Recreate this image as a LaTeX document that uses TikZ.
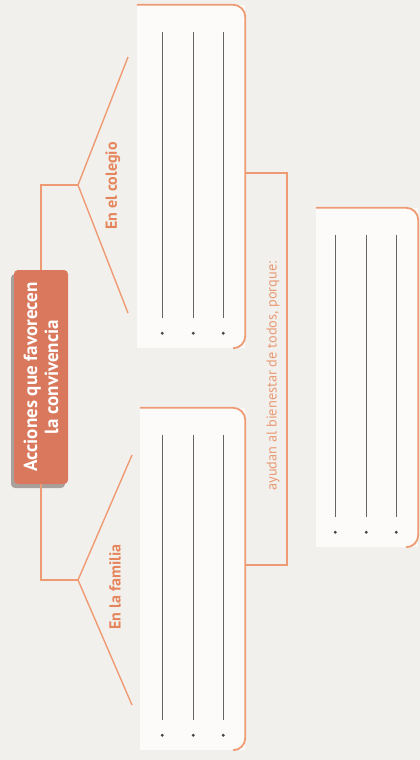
\documentclass[tikz,border=0pt]{standalone}
\usepackage{fontspec}
\setmainfont{PT Sans}
\usepackage{tikz}
\usetikzlibrary{positioning,calc}
\definecolor{CVPaper}{HTML}{F2F0ED}
\definecolor{CVSheet}{HTML}{FCFBFA}
\definecolor{CVSalmon}{HTML}{D9785C}
\definecolor{CVLine}{HTML}{EE9B73}
\definecolor{CVText}{HTML}{E5855B}
\definecolor{CVSoft}{HTML}{E89A74}
\definecolor{CVGray}{HTML}{666666}
\definecolor{CVShadow}{HTML}{A8A09A}
\begin{document}
\begin{tikzpicture}[x=1pt,y=-1pt,
  mainbox/.style={rounded corners=4pt,fill=CVSalmon,text=white,font=\bfseries\fontsize{19}{21}\selectfont,align=center,rotate=90,minimum width=214pt,minimum height=54pt,inner sep=0pt},
  sheet/.style={fill=CVSheet,inner sep=0pt},
  boxrim/.style={draw=CVLine,line width=1.8pt,rounded corners=12pt},
  conn/.style={draw=CVLine,line width=1.4pt},
  branch/.style={font=\bfseries\fontsize{16}{18}\selectfont,text=CVText,rotate=90},
  porque/.style={font=\fontsize{14.3}{16}\selectfont,text=CVSoft,rotate=90},
  writeline/.style={draw=CVGray,line width=0.6pt},
  penpoint/.style={fill=CVGray!70!black}
]
\fill[CVPaper] (0,0) rectangle (420,760);
\node[sheet,minimum width=108pt,minimum height=343pt] (colbox) at (191,176.5) {};
\node[sheet,minimum width=105pt,minimum height=342pt] (fambox) at (192.5,579) {};
\node[sheet,minimum width=102pt,minimum height=339pt] (whybox) at (367,377.5) {};
\foreach \b in {colbox,fambox,whybox}
  \draw[boxrim] (\b.north west) -- (\b.north east) -- (\b.south east) -- ([xshift=-12pt]\b.south east);
\foreach \b in {colbox,fambox,whybox}
  \foreach \dx in {83,52,22} {
    \draw[writeline] ([xshift=-\dx pt,yshift=-27pt]\b.north east) -- ([xshift=-\dx pt,yshift=30pt]\b.south east);
    \fill[penpoint] ([xshift=-\dx pt,yshift=15pt]\b.south east) circle (1.6pt);
  }
\fill[CVShadow,rounded corners=4pt] (11,274) rectangle (65,488);
\node[mainbox] (acc) at (41,377) {Acciones que favorecen\\la convivencia};
\coordinate (colapex) at (78,185);
\coordinate (colup) at (128,57);
\coordinate (coldown) at (128,313);
\coordinate (famapex) at (78,580);
\coordinate (famup) at (132,455);
\coordinate (famdown) at (132,705);
\draw[conn] (acc.east) |- (colapex);
\draw[conn] (acc.west) |- (famapex);
\draw[conn] (colup) -- (colapex) -- (coldown);
\draw[conn] (famup) -- (famapex) -- (famdown);
\node[branch] (col) at (113,186) {En el colegio};
\node[branch] (fam) at (115,587) {En la familia};
\coordinate (jtop) at (287,173);
\coordinate (jbot) at (287,565);
\draw[conn] ([yshift=3.5pt]colbox.east) -- (jtop) -- (jbot) -- ([yshift=14pt]fambox.east);
\node[porque] (why) at (273,376) {ayudan al bienestar de todos, porque:};
\end{tikzpicture}
\end{document}
